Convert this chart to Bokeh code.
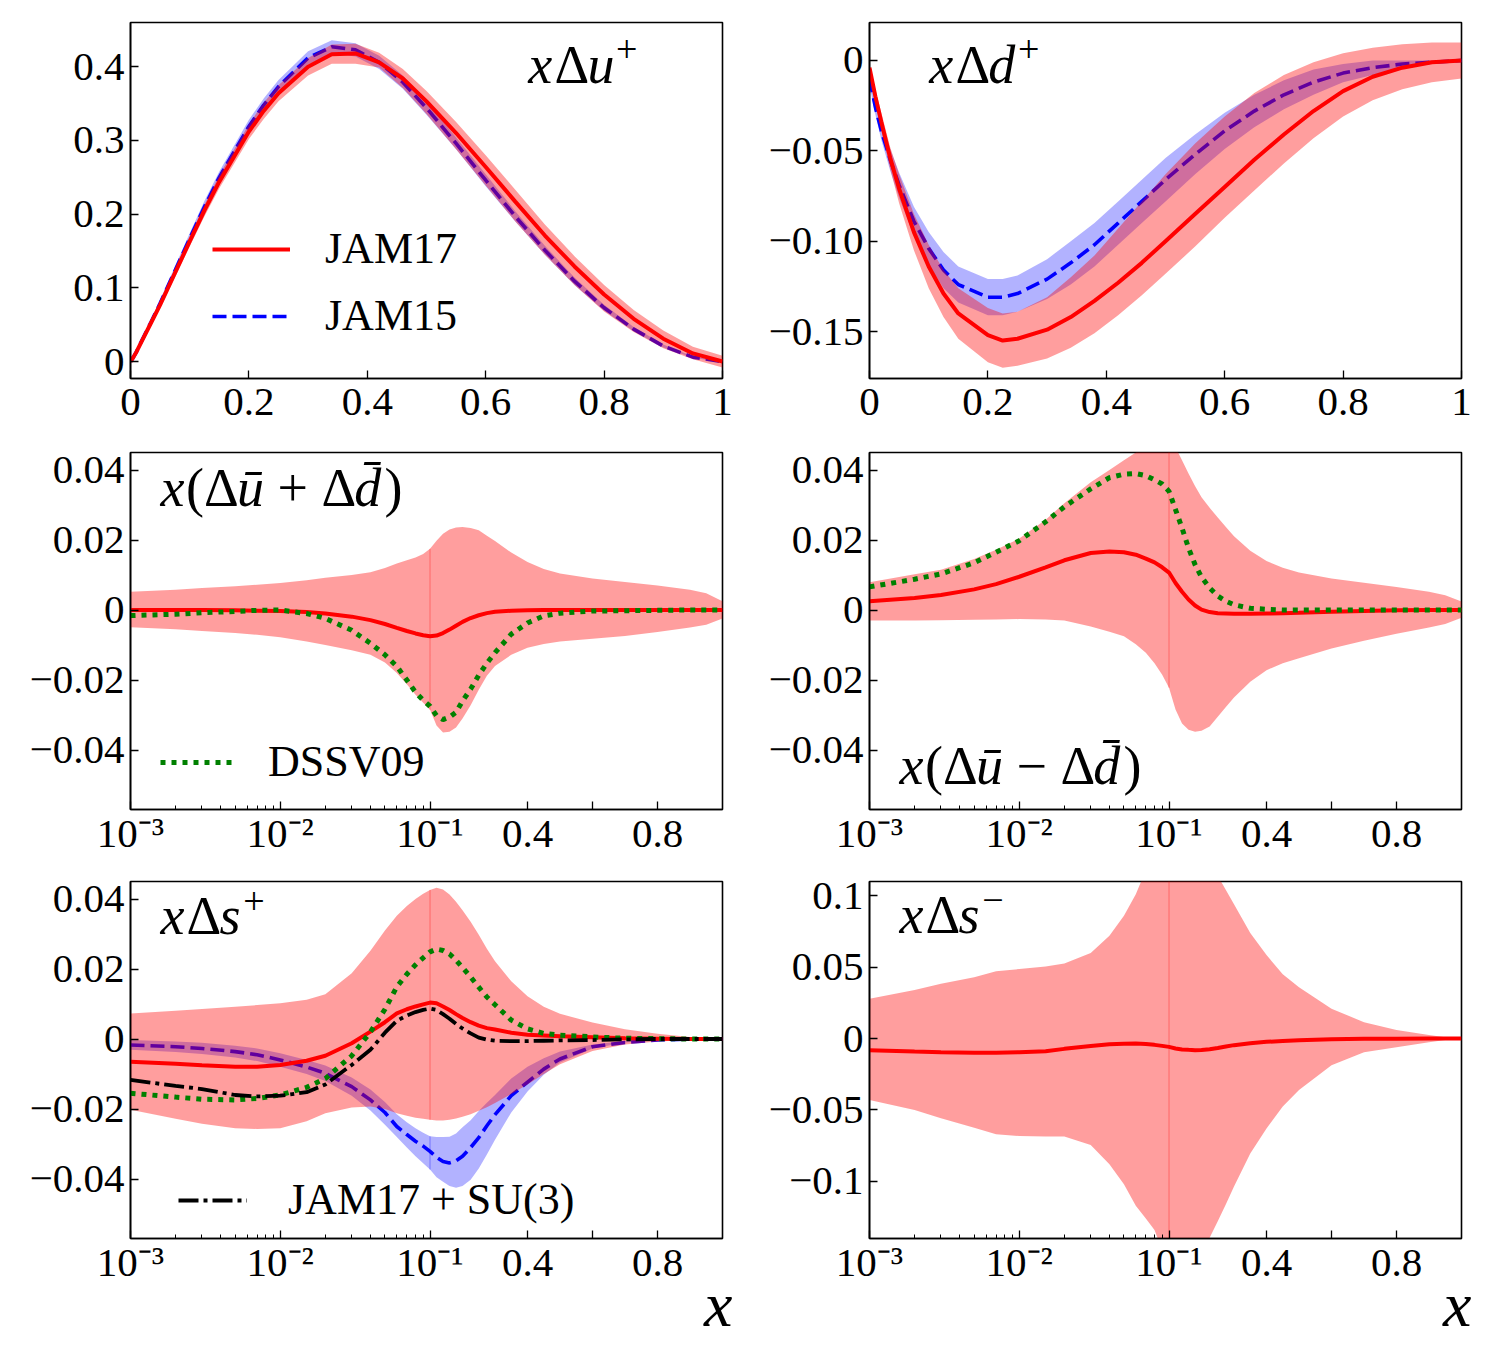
import numpy as np
from bokeh.plotting import figure
from bokeh.layouts import gridplot
from bokeh.models import (FixedTicker, CustomJSTickFormatter, Label, Legend,
                          LegendItem, Range1d, Title)
from bokeh.embed import file_html
from bokeh.resources import INLINE

FONT = "Liberation Serif"

# ---------------------------------------------------------------- data ----
# top row: linear x
X_TOP = [0, 0.005, 0.01, 0.02, 0.035, 0.05, 0.075, 0.1, 0.125, 0.15, 0.2, 0.225,
         0.25, 0.3, 0.34, 0.38, 0.42, 0.46, 0.5, 0.55, 0.6, 0.65, 0.7, 0.75,
         0.8, 0.85, 0.9, 0.95, 1.0]

# x Delta u+
UP_J17 = [0, 0.006, 0.013, 0.029, 0.053, 0.077, 0.120, 0.163, 0.205, 0.244, 0.312, 0.340,
          0.364, 0.400, 0.417, 0.418, 0.406, 0.384, 0.353, 0.310, 0.264, 0.217, 0.171, 0.129,
          0.091, 0.058, 0.031, 0.011, 0.0]
UP_J17_LO = [-0.001, 0.005, 0.011, 0.026, 0.049, 0.072, 0.114, 0.156, 0.197, 0.235, 0.302, 0.329,
             0.353, 0.388, 0.404, 0.404, 0.399, 0.371, 0.336, 0.288, 0.239, 0.190, 0.145, 0.104,
             0.068, 0.040, 0.018, 0.003, -0.008]
UP_J17_HI = [0.001, 0.007, 0.015, 0.032, 0.057, 0.082, 0.126, 0.170, 0.213, 0.253, 0.322, 0.351,
             0.375, 0.412, 0.430, 0.431, 0.419, 0.397, 0.367, 0.325, 0.280, 0.233, 0.186, 0.143,
             0.104, 0.070, 0.042, 0.020, 0.008]
UP_J15 = [0, 0.006, 0.013, 0.030, 0.054, 0.079, 0.123, 0.167, 0.210, 0.250, 0.319, 0.348,
          0.373, 0.412, 0.427, 0.423, 0.406, 0.379, 0.344, 0.296, 0.246, 0.197, 0.151, 0.109,
          0.073, 0.044, 0.021, 0.006, 0.0]
UP_J15_LO = [-0.001, 0.005, 0.011, 0.027, 0.050, 0.074, 0.117, 0.160, 0.202, 0.242, 0.310, 0.339,
             0.364, 0.403, 0.418, 0.414, 0.397, 0.370, 0.335, 0.288, 0.238, 0.190, 0.145, 0.104,
             0.069, 0.041, 0.019, 0.005, -0.001]
UP_J15_HI = [0.001, 0.007, 0.015, 0.033, 0.058, 0.084, 0.129, 0.174, 0.218, 0.258, 0.328, 0.357,
             0.382, 0.421, 0.436, 0.432, 0.415, 0.388, 0.353, 0.304, 0.254, 0.204, 0.157, 0.114,
             0.077, 0.047, 0.023, 0.007, 0.001]

# x Delta d+
DP_J17 = [-0.004, -0.012, -0.020, -0.034, -0.054, -0.071, -0.095, -0.114, -0.129, -0.140, -0.152, -0.155,
          -0.154, -0.149, -0.142, -0.133, -0.123, -0.112, -0.100, -0.085, -0.070, -0.055, -0.041, -0.028,
          -0.017, -0.009, -0.004, -0.001, 0.0]
DP_J17_LO = [-0.006, -0.015, -0.024, -0.039, -0.060, -0.079, -0.105, -0.126, -0.142, -0.154, -0.167, -0.170,
             -0.169, -0.165, -0.159, -0.151, -0.141, -0.130, -0.118, -0.103, -0.087, -0.072, -0.057, -0.043,
             -0.031, -0.022, -0.016, -0.012, -0.010]
DP_J17_HI = [-0.002, -0.009, -0.016, -0.029, -0.048, -0.063, -0.085, -0.102, -0.116, -0.126, -0.137, -0.140,
             -0.139, -0.131, -0.120, -0.108, -0.093, -0.078, -0.063, -0.046, -0.031, -0.018, -0.008, -0.001,
             0.004, 0.007, 0.009, 0.010, 0.010]
DP_J15 = [-0.010, -0.018, -0.026, -0.039, -0.055, -0.069, -0.089, -0.104, -0.116, -0.124, -0.131, -0.131,
          -0.129, -0.121, -0.112, -0.102, -0.090, -0.078, -0.066, -0.052, -0.039, -0.028, -0.019, -0.012,
          -0.007, -0.004, -0.002, -0.001, 0.0]
DP_J15_LO = [-0.014, -0.022, -0.030, -0.044, -0.061, -0.076, -0.097, -0.113, -0.126, -0.134, -0.141, -0.141,
             -0.139, -0.132, -0.124, -0.114, -0.102, -0.090, -0.078, -0.063, -0.049, -0.037, -0.027, -0.019,
             -0.012, -0.008, -0.004, -0.002, -0.001]
DP_J15_HI = [-0.006, -0.014, -0.022, -0.034, -0.049, -0.062, -0.081, -0.095, -0.106, -0.114, -0.121, -0.121,
             -0.119, -0.110, -0.100, -0.090, -0.078, -0.066, -0.054, -0.041, -0.029, -0.019, -0.011, -0.005,
             -0.002, 0.000, 0.000, 0.000, 0.001]

# lower rows: log x below 0.1, linear x above 0.1
X_SEA = [0.001, 0.002, 0.003, 0.005, 0.007, 0.01, 0.015, 0.02, 0.03, 0.04, 0.05, 0.06,
         0.07, 0.08, 0.09, 0.1, 0.12, 0.14, 0.16, 0.18, 0.2, 0.225, 0.25, 0.275,
         0.3, 0.35, 0.4, 0.45, 0.5, 0.6, 0.7, 0.8, 0.9, 0.95, 1.0]

# x(Delta ubar + Delta dbar)
SUM_J17 = [0.0, 0.0, 0.0, -0.0001, -0.0002, -0.0003, -0.0006, -0.0010, -0.0019, -0.0029, -0.0040, -0.0051,
           -0.0060, -0.0067, -0.0072, -0.0075, -0.0073, -0.0066, -0.0056, -0.0045, -0.0034, -0.0023, -0.0015, -0.0009,
           -0.0005, -0.0002, -0.0001, 0.0, 0.0, 0.0, 0.0, 0.0, 0.0, 0.0, 0.0]
SUM_J17_LO = [-0.0049, -0.0055, -0.0060, -0.0066, -0.0071, -0.0078, -0.0090, -0.0100, -0.0115, -0.0128, -0.0150, -0.0180,
              -0.0212, -0.0242, -0.0265, -0.0285, -0.0330, -0.0350, -0.0348, -0.0336, -0.0310, -0.0272, -0.0228, -0.0188,
              -0.0160, -0.0128, -0.0108, -0.0097, -0.0090, -0.0082, -0.0074, -0.0063, -0.0050, -0.0042, -0.0024]
SUM_J17_HI = [0.0052, 0.0058, 0.0063, 0.0068, 0.0072, 0.0077, 0.0085, 0.0092, 0.0100, 0.0108, 0.0120, 0.0133,
              0.0142, 0.0150, 0.0160, 0.0175, 0.0198, 0.0218, 0.0230, 0.0236, 0.0237, 0.0234, 0.0228, 0.0212,
              0.0197, 0.0164, 0.0137, 0.0117, 0.0104, 0.0090, 0.0080, 0.0070, 0.0058, 0.0048, 0.0025]
SUM_DSSV = [-0.0016, -0.0012, -0.0008, -0.0004, -0.0001, 0.0, -0.0010, -0.0024, -0.0058, -0.0095, -0.0128, -0.0161,
            -0.0200, -0.0235, -0.0258, -0.0275, -0.0302, -0.0313, -0.0306, -0.0292, -0.0260, -0.0226, -0.0186, -0.0152,
            -0.0122, -0.0069, -0.0037, -0.0017, -0.0009, -0.0003, -0.0002, -0.0001, 0.0, 0.0, 0.0]

# x(Delta ubar - Delta dbar)
DIF_J17 = [0.0025, 0.0034, 0.0043, 0.0059, 0.0074, 0.0095, 0.0122, 0.0142, 0.0163, 0.0167, 0.0165, 0.0158,
           0.0147, 0.0136, 0.0122, 0.0107, 0.0077, 0.0052, 0.0030, 0.0013, 0.0001, -0.0006, -0.0009, -0.0010,
           -0.0011, -0.0011, -0.0010, -0.0009, -0.0008, -0.0005, -0.0003, -0.0001, 0.0, 0.0, 0.0]
DIF_J17_LO = [-0.0030, -0.0030, -0.0029, -0.0028, -0.0027, -0.0026, -0.0027, -0.0030, -0.0047, -0.0062, -0.0075, -0.0098,
              -0.0122, -0.0152, -0.0185, -0.0222, -0.0284, -0.0324, -0.0342, -0.0348, -0.0345, -0.0333, -0.0305, -0.0277,
              -0.0250, -0.0205, -0.0172, -0.0152, -0.0138, -0.0110, -0.0088, -0.0068, -0.0050, -0.0040, -0.0022]
DIF_J17_HI = [0.0079, 0.0102, 0.0115, 0.0146, 0.0172, 0.0204, 0.0258, 0.0305, 0.0365, 0.0400, 0.0428, 0.0450,
              0.0466, 0.0477, 0.0484, 0.0487, 0.0465, 0.0428, 0.0390, 0.0354, 0.0322, 0.0292, 0.0264, 0.0237,
              0.0211, 0.0169, 0.0140, 0.0121, 0.0107, 0.0090, 0.0078, 0.0066, 0.0052, 0.0042, 0.0024]
DIF_DSSV = [0.0066, 0.0088, 0.0103, 0.0135, 0.0165, 0.0198, 0.0252, 0.0295, 0.0346, 0.0378, 0.0388, 0.0390,
            0.0384, 0.0372, 0.0360, 0.0339, 0.0287, 0.0234, 0.0177, 0.0130, 0.0094, 0.0063, 0.0040, 0.0025,
            0.0015, 0.0005, 0.0002, 0.0, 0.0, 0.0, 0.0, 0.0, 0.0, 0.0, 0.0]

# x Delta s+
SP_J17 = [-0.0065, -0.0071, -0.0075, -0.0079, -0.0079, -0.0074, -0.0062, -0.0048, -0.0012, 0.0021, 0.0048, 0.0073,
          0.0085, 0.0093, 0.0099, 0.0104, 0.0102, 0.0093, 0.0083, 0.0071, 0.0060, 0.0048, 0.0038, 0.0031,
          0.0027, 0.0018, 0.0012, 0.0010, 0.0008, 0.0005, 0.0002, 0.0001, 0.0, 0.0, 0.0]
SP_J17_LO = [-0.0202, -0.0228, -0.0242, -0.0255, -0.0257, -0.0255, -0.0235, -0.0212, -0.0196, -0.0193, -0.0200, -0.0212,
             -0.0219, -0.0225, -0.0228, -0.0231, -0.0233, -0.0233, -0.0231, -0.0227, -0.0222, -0.0215, -0.0205, -0.0195,
             -0.0183, -0.0157, -0.0130, -0.0100, -0.0072, -0.0034, -0.0016, -0.0007, -0.0003, -0.0001, 0.0]
SP_J17_HI = [0.0073, 0.0081, 0.0086, 0.0092, 0.0097, 0.0102, 0.0112, 0.0128, 0.0188, 0.0252, 0.0310, 0.0352,
             0.0380, 0.0400, 0.0415, 0.0426, 0.0432, 0.0427, 0.0413, 0.0392, 0.0368, 0.0335, 0.0298, 0.0258,
             0.0222, 0.0165, 0.0122, 0.0092, 0.0072, 0.0047, 0.0028, 0.0015, 0.0006, 0.0003, 0.0]
SP_J15 = [-0.0017, -0.0022, -0.0027, -0.0036, -0.0045, -0.0060, -0.0080, -0.0098, -0.0136, -0.0174, -0.0210, -0.0250,
          -0.0273, -0.0292, -0.0306, -0.0321, -0.0338, -0.0350, -0.0354, -0.0348, -0.0335, -0.0310, -0.0282, -0.0248,
          -0.0216, -0.0162, -0.0123, -0.0086, -0.0057, -0.0022, -0.0010, -0.0003, 0.0, 0.0, 0.0]
SP_J15_LO = [-0.0031, -0.0037, -0.0043, -0.0053, -0.0063, -0.0079, -0.0100, -0.0120, -0.0162, -0.0204, -0.0245, -0.0280,
             -0.0310, -0.0335, -0.0355, -0.0373, -0.0395, -0.0408, -0.0420, -0.0425, -0.0420, -0.0402, -0.0370, -0.0330,
             -0.0288, -0.0210, -0.0150, -0.0102, -0.0067, -0.0027, -0.0010, -0.0003, -0.0001, 0.0, 0.0]
SP_J15_HI = [-0.0003, -0.0007, -0.0011, -0.0019, -0.0027, -0.0041, -0.0060, -0.0076, -0.0110, -0.0144, -0.0180, -0.0215,
             -0.0238, -0.0255, -0.0268, -0.0278, -0.0280, -0.0280, -0.0279, -0.0270, -0.0252, -0.0232, -0.0206, -0.0182,
             -0.0160, -0.0113, -0.0079, -0.0055, -0.0036, -0.0016, -0.0006, 0.0, 0.0001, 0.0, 0.0]
SP_DSSV = [-0.0155, -0.0166, -0.0172, -0.0174, -0.0170, -0.0160, -0.0138, -0.0113, -0.0048, 0.0020, 0.0085, 0.0149,
           0.0185, 0.0212, 0.0232, 0.0249, 0.0257, 0.0253, 0.0243, 0.0225, 0.0204, 0.0177, 0.0148, 0.0120,
           0.0098, 0.0054, 0.0029, 0.0016, 0.0011, 0.0006, 0.0002, 0.0001, 0.0, 0.0, 0.0]
SP_SU3 = [-0.0117, -0.0134, -0.0143, -0.0160, -0.0164, -0.0162, -0.0152, -0.0130, -0.0074, -0.0031, 0.0018, 0.0052,
          0.0067, 0.0077, 0.0083, 0.0087, 0.0083, 0.0071, 0.0058, 0.0043, 0.0030, 0.0016, 0.0004, -0.0002,
          -0.0005, -0.0006, -0.0006, -0.0005, -0.0004, -0.0003, -0.0001, 0.0, 0.0, 0.0, 0.0]

# x Delta s-
SM_J17 = [-0.0081, -0.0090, -0.0095, -0.0099, -0.0100, -0.0096, -0.0088, -0.0072, -0.0052, -0.0040, -0.0036, -0.0035,
          -0.0038, -0.0044, -0.0051, -0.0058, -0.0069, -0.0076, -0.0079, -0.0081, -0.0080, -0.0074, -0.0066, -0.0055,
          -0.0046, -0.0032, -0.0023, -0.0017, -0.0012, -0.0005, -0.0002, -0.0001, 0.0, 0.0, 0.0]
SM_J17_LO = [-0.0430, -0.0500, -0.0558, -0.0625, -0.0670, -0.0682, -0.0686, -0.0686, -0.0745, -0.0880, -0.1020, -0.1170,
             -0.1260, -0.1340, -0.1480, -0.1600, -0.1750, -0.1800, -0.1750, -0.1650, -0.1550, -0.1395, -0.1280, -0.1160,
             -0.1035, -0.0805, -0.0630, -0.0475, -0.0360, -0.0186, -0.0095, -0.0060, -0.0025, -0.0010, 0.0]
SM_J17_HI = [0.0279, 0.0340, 0.0384, 0.0430, 0.0472, 0.0487, 0.0505, 0.0525, 0.0600, 0.0720, 0.0860, 0.1010,
             0.1180, 0.1300, 0.1420, 0.1520, 0.1650, 0.1680, 0.1600, 0.1480, 0.1350, 0.1240, 0.1140, 0.1040,
             0.0940, 0.0740, 0.0585, 0.0450, 0.0360, 0.0209, 0.0115, 0.0060, 0.0025, 0.0010, 0.0]

TOP_XTICKS = [0, 0.2, 0.4, 0.6, 0.8, 1.0]
TOP_XLABELS = ["0", "0.2", "0.4", "0.6", "0.8", "1"]
SEA_XTICKS = [0.001, 0.01, 0.1, 0.4, 0.6, 0.8]
SEA_XLABELS = ["10\u207b\u00b3", "10\u207b\u00b2", "10\u207b\u00b9", "0.4", "", "0.8"]
SEA_XMINOR = [k * d for d in (0.001, 0.01) for k in range(2, 10)]

UP_YTICKS = [0, 0.1, 0.2, 0.3, 0.4]
UP_YLABELS = ["0", "0.1", "0.2", "0.3", "0.4"]
DP_YTICKS = [0, -0.05, -0.10, -0.15]
DP_YLABELS = ["0", "\u22120.05", "\u22120.10", "\u22120.15"]
SEA_YTICKS = [0.04, 0.02, 0, -0.02, -0.04]
SEA_YLABELS = ["0.04", "0.02", "0", "\u22120.02", "\u22120.04"]
SM_YTICKS = [0.1, 0.05, 0, -0.05, -0.1]
SM_YLABELS = ["0.1", "0.05", "0", "\u22120.05", "\u22120.1"]

RED, BLUE, GREEN = "#ff0000", "#0000ff", "#008000"

# ------------------------------------------------------------ helpers ----
LIN = 1.953  # width (in axis units) of the linear 0.1..1 half


def hx(xs):
    xs = np.asarray(xs, dtype=float)
    return np.where(xs <= 0.1, np.log10(xs) + 3.0, 2.0 + (xs - 0.1) / 0.9 * LIN)


FMT_CODE = """
let b = 0;
for (let i = 0; i < t.length; i++) {
  if (Math.abs(t[i] - tick) < Math.abs(t[b] - tick)) { b = i; }
}
return l[b];
"""

ROW_H = [430, 429, 490]
ROW_MB = [52, 50, 111]


def new_fig(col, row, xr, yr):
    w = 740 if col == 0 else 760
    p = figure(width=w, height=ROW_H[row], x_range=Range1d(*xr), y_range=Range1d(*yr),
               output_backend="svg", toolbar_location=None,
               min_border_left=130 if col == 0 else 129,
               min_border_right=18 if col == 0 else 39,
               min_border_top=22, min_border_bottom=ROW_MB[row])
    p.grid.visible = False
    p.outline_line_color = "black"
    p.outline_line_width = 1.6
    p.outline_line_alpha = 1.0
    p.background_fill_color = "white"
    p.border_fill_color = "white"
    return p


def set_axis(ax, ticks, labels, minor=(), standoff=0):
    ax.ticker = FixedTicker(ticks=list(ticks), minor_ticks=list(minor))
    ax.formatter = CustomJSTickFormatter(args=dict(t=list(ticks), l=list(labels)), code=FMT_CODE)
    ax.major_label_text_font = FONT
    ax.major_label_text_font_size = "41px"
    ax.major_label_text_color = "black"
    ax.major_label_standoff = standoff
    ax.major_tick_in = 8
    ax.major_tick_out = 0
    ax.minor_tick_in = 4
    ax.minor_tick_out = 0
    ax.axis_line_width = 1.6
    ax.major_tick_line_width = 1.3
    ax.minor_tick_line_width = 1.0
    ax.axis_line_color = "black"
    ax.major_tick_line_color = "black"
    ax.minor_tick_line_color = "black"


def band(p, xs, lo, hi, color, alpha, split=False):
    xs = np.asarray(xs, dtype=float)
    lo = np.asarray(lo)
    hi = np.asarray(hi)
    if not split:
        p.varea(x=xs, y1=lo, y2=hi, fill_color=color, fill_alpha=alpha)
        return
    u = hx(xs)
    left = xs <= 0.1
    right = xs >= 0.1
    p.varea(x=u[left], y1=lo[left], y2=hi[left], fill_color=color, fill_alpha=alpha)
    p.varea(x=u[right], y1=lo[right], y2=hi[right], fill_color=color, fill_alpha=alpha)
    i01 = int(np.argmin(np.abs(xs - 0.1)))
    p.segment(x0=[u[i01]], y0=[lo[i01]], x1=[u[i01]], y1=[hi[i01]],
              line_color=color, line_alpha=0.35, line_width=1)


# advance widths (em) of Liberation Serif (Times metrics)
ADV = {("x", "i"): 0.444, ("u", "i"): 0.5, ("d", "i"): 0.5, ("s", "i"): 0.389,
       ("\u016b", "i"): 0.5, ("d\u0304", "i"): 0.5, ("\u0394", "n"): 0.61,
       ("(", "n"): 0.333, (")", "n"): 0.333, ("+", "n"): 0.564, ("\u2212", "n"): 0.564}
TS = 54      # title font size
TS_RAISE = 19  # baseline correction


def title(p, x, y, pieces, sup=None):
    """pieces: list of (text, 'i'|'n', gap_after_em)"""
    dx = 0.0
    for txt, st, gap in pieces:
        p.add_layout(Label(x=x, y=y, x_offset=dx, y_offset=TS_RAISE, text=txt, text_font=FONT,
                           text_font_style="italic" if st == "i" else "normal",
                           text_font_size=f"{TS}px", text_baseline="alphabetic",
                           text_color="black"))
        dx += (ADV[(txt, st)] + gap) * TS
    if sup:
        p.add_layout(Label(x=x, y=y, x_offset=dx, y_offset=TS_RAISE + 15, text=sup, text_font=FONT,
                           text_font_size="38px", text_baseline="alphabetic", text_color="black"))


def legend(p, items, loc, glyph_w, standoff):
    lg = Legend(items=[LegendItem(label=t, renderers=[r]) for t, r in items],
                location=loc, glyph_width=glyph_w, glyph_height=50, label_height=50,
                label_standoff=standoff, spacing=16, padding=0, margin=0,
                border_line_alpha=0, background_fill_alpha=0,
                label_text_font=FONT, label_text_font_size="44px", label_text_color="black")
    p.add_layout(lg)


def xlabel(p):
    p.add_layout(Title(text="x", align="right", offset=-10, standoff=-42,
                       text_font=FONT, text_font_style="italic", text_font_size="64px",
                       text_color="black"), "below")


SEA_XR = (0.0, 2.0 + LIN)
DOT = "5 6"
DASH = "14 6"
DASHDOT = "20 5 4 5"

# ---------------------------------------------------------- top-left ----
p1 = new_fig(0, 0, (0, 1), (-0.023, 0.46))
set_axis(p1.xaxis[0], TOP_XTICKS, TOP_XLABELS, standoff=10)
set_axis(p1.yaxis[0], UP_YTICKS, UP_YLABELS, standoff=6)
band(p1, X_TOP, UP_J15_LO, UP_J15_HI, BLUE, 0.3)
r_j15 = p1.line(X_TOP, UP_J15, line_color=BLUE, line_width=3.6, line_dash=DASH)
band(p1, X_TOP, UP_J17_LO, UP_J17_HI, RED, 0.38)
r_j17 = p1.line(X_TOP, UP_J17, line_color=RED, line_width=4)
title(p1, 0.672, 0.377, [("x", "i", 0.04), ("\u0394", "n", 0.0), ("u", "i", 0.03)], "+")
legend(p1, [("JAM17", r_j17), ("JAM15", r_j15)], (82, 37), 78, 35)

# --------------------------------------------------------- top-right ----
p2 = new_fig(1, 0, (0, 1), (-0.176, 0.021))
set_axis(p2.xaxis[0], TOP_XTICKS, TOP_XLABELS, standoff=10)
set_axis(p2.yaxis[0], DP_YTICKS, DP_YLABELS, standoff=6)
band(p2, X_TOP, DP_J15_LO, DP_J15_HI, BLUE, 0.3)
p2.line(X_TOP, DP_J15, line_color=BLUE, line_width=3.6, line_dash=DASH)
band(p2, X_TOP, DP_J17_LO, DP_J17_HI, RED, 0.38)
p2.line(X_TOP, DP_J17, line_color=RED, line_width=4)
title(p2, 0.101, -0.0128, [("x", "i", 0.04), ("\u0394", "n", 0.0), ("d", "i", 0.05)], "+")

# --------------------------------------------------------- middle-left ----
U = hx(X_SEA)
p3 = new_fig(0, 1, SEA_XR, (-0.057, 0.045))
set_axis(p3.xaxis[0], hx(SEA_XTICKS).tolist(), SEA_XLABELS, hx(SEA_XMINOR).tolist(), standoff=0)
set_axis(p3.yaxis[0], SEA_YTICKS, SEA_YLABELS, standoff=6)
band(p3, X_SEA, SUM_J17_LO, SUM_J17_HI, RED, 0.38, split=True)
p3.line(U, SUM_J17, line_color=RED, line_width=4)
r_dssv = p3.line(U, SUM_DSSV, line_color=GREEN, line_width=5, line_dash=DOT)
title(p3, 0.2, 0.0293, [("x", "i", 0.03), ("(", "n", 0.0), ("\u0394", "n", 0.0), ("\u016b", "i", 0.25),
                        ("+", "n", 0.25), ("\u0394", "n", 0.0), ("d\u0304", "i", 0.06), (")", "n", 0.0)])
legend(p3, [("DSSV09", r_dssv)], (30, 22), 72, 36)

# -------------------------------------------------------- middle-right ----
p4 = new_fig(1, 1, SEA_XR, (-0.057, 0.045))
set_axis(p4.xaxis[0], hx(SEA_XTICKS).tolist(), SEA_XLABELS, hx(SEA_XMINOR).tolist(), standoff=0)
set_axis(p4.yaxis[0], SEA_YTICKS, SEA_YLABELS, standoff=6)
band(p4, X_SEA, DIF_J17_LO, DIF_J17_HI, RED, 0.38, split=True)
p4.line(U, DIF_J17, line_color=RED, line_width=4)
p4.line(U, DIF_DSSV, line_color=GREEN, line_width=5, line_dash=DOT)
title(p4, 0.2, -0.0501, [("x", "i", 0.03), ("(", "n", 0.0), ("\u0394", "n", 0.0), ("\u016b", "i", 0.25),
                         ("\u2212", "n", 0.25), ("\u0394", "n", 0.0), ("d\u0304", "i", 0.06), (")", "n", 0.0)])

# --------------------------------------------------------- bottom-left ----
p5 = new_fig(0, 2, SEA_XR, (-0.057, 0.045))
set_axis(p5.xaxis[0], hx(SEA_XTICKS).tolist(), SEA_XLABELS, hx(SEA_XMINOR).tolist(), standoff=0)
set_axis(p5.yaxis[0], SEA_YTICKS, SEA_YLABELS, standoff=6)
band(p5, X_SEA, SP_J15_LO, SP_J15_HI, BLUE, 0.3, split=True)
p5.line(U, SP_J15, line_color=BLUE, line_width=3.6, line_dash=DASH)
band(p5, X_SEA, SP_J17_LO, SP_J17_HI, RED, 0.38, split=True)
p5.line(U, SP_J17, line_color=RED, line_width=4)
p5.line(U, SP_DSSV, line_color=GREEN, line_width=5, line_dash=DOT)
r_su3 = p5.line(U, SP_SU3, line_color="black", line_width=3.8, line_dash=DASHDOT)
title(p5, 0.2, 0.0296, [("x", "i", 0.04), ("\u0394", "n", 0.0), ("s", "i", 0.05)], "+")
legend(p5, [("JAM17 + SU(3)", r_su3)], (48, 13), 69, 41)
xlabel(p5)

# -------------------------------------------------------- bottom-right ----
p6 = new_fig(1, 2, SEA_XR, (-0.14, 0.11))
set_axis(p6.xaxis[0], hx(SEA_XTICKS).tolist(), SEA_XLABELS, hx(SEA_XMINOR).tolist(), standoff=0)
set_axis(p6.yaxis[0], SM_YTICKS, SM_YLABELS, standoff=6)
band(p6, X_SEA, SM_J17_LO, SM_J17_HI, RED, 0.38, split=True)
p6.line(U, SM_J17, line_color=RED, line_width=4)
title(p6, 0.2, 0.0729, [("x", "i", 0.04), ("\u0394", "n", 0.0), ("s", "i", 0.05)], "\u2212")
xlabel(p6)

grid = gridplot([[p1, p2], [p3, p4], [p5, p6]], toolbar_location=None)

open("out.html", "w").write(file_html(grid, INLINE))
